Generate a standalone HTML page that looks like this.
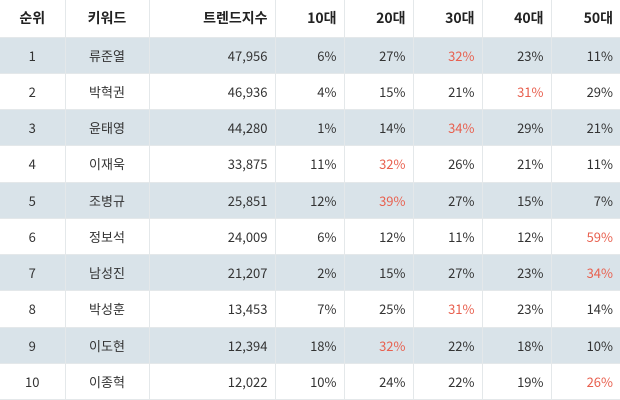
<!DOCTYPE html>
<html><head><meta charset="utf-8">
<style>
html,body{margin:0;padding:0;background:#fff;}
body{width:620px;height:400px;overflow:hidden;font-family:"Noto Sans CJK KR","Liberation Sans",sans-serif;color:#333;}
table{border-collapse:collapse;table-layout:fixed;width:620px;font-size:13px;}
td,th{border-right:1px solid #e4e8ea;border-bottom:1px solid #e4e8ea;padding:0 7px 0 0;height:36.25px;box-sizing:border-box;font-weight:normal;line-height:1;}
th{height:37px;font-weight:bold;text-align:right;font-size:14px;color:#222;}
tr td:last-child,tr th:last-child{border-right:none;}
.c{text-align:center;padding:0;}
td{text-align:right;}
tr.s td{background:#d9e3e9;}
.r{color:#e8604f;}
</style></head><body>
<table>
<colgroup><col style="width:65px"><col style="width:84px"><col style="width:126px"><col style="width:69px"><col style="width:69px"><col style="width:69px"><col style="width:69px"><col style="width:69px"></colgroup>
<tr><th class="c">순위</th><th class="c">키워드</th><th>트렌드지수</th><th>10대</th><th>20대</th><th>30대</th><th>40대</th><th>50대</th></tr>
<tr class="s"><td class="c">1</td><td class="c">류준열</td><td>47,956</td><td>6%</td><td>27%</td><td class="r">32%</td><td>23%</td><td>11%</td></tr>
<tr><td class="c">2</td><td class="c">박혁권</td><td>46,936</td><td>4%</td><td>15%</td><td>21%</td><td class="r">31%</td><td>29%</td></tr>
<tr class="s"><td class="c">3</td><td class="c">윤태영</td><td>44,280</td><td>1%</td><td>14%</td><td class="r">34%</td><td>29%</td><td>21%</td></tr>
<tr><td class="c">4</td><td class="c">이재욱</td><td>33,875</td><td>11%</td><td class="r">32%</td><td>26%</td><td>21%</td><td>11%</td></tr>
<tr class="s"><td class="c">5</td><td class="c">조병규</td><td>25,851</td><td>12%</td><td class="r">39%</td><td>27%</td><td>15%</td><td>7%</td></tr>
<tr><td class="c">6</td><td class="c">정보석</td><td>24,009</td><td>6%</td><td>12%</td><td>11%</td><td>12%</td><td class="r">59%</td></tr>
<tr class="s"><td class="c">7</td><td class="c">남성진</td><td>21,207</td><td>2%</td><td>15%</td><td>27%</td><td>23%</td><td class="r">34%</td></tr>
<tr><td class="c">8</td><td class="c">박성훈</td><td>13,453</td><td>7%</td><td>25%</td><td class="r">31%</td><td>23%</td><td>14%</td></tr>
<tr class="s"><td class="c">9</td><td class="c">이도현</td><td>12,394</td><td>18%</td><td class="r">32%</td><td>22%</td><td>18%</td><td>10%</td></tr>
<tr><td class="c">10</td><td class="c">이종혁</td><td>12,022</td><td>10%</td><td>24%</td><td>22%</td><td>19%</td><td class="r">26%</td></tr>
</table>
</body></html>
